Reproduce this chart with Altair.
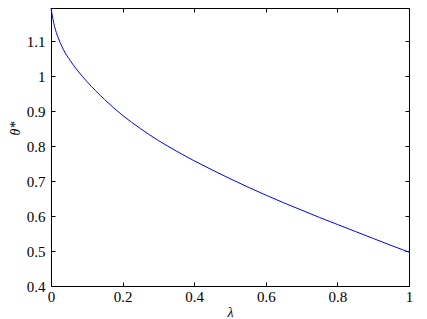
import altair as alt
import pandas as pd

# Data
lam = [0.0, 0.005, 0.01, 0.02, 0.03, 0.04, 0.05, 0.075, 0.1, 0.15, 0.2, 0.25, 0.3,
       0.35, 0.4, 0.45, 0.5, 0.55, 0.6, 0.65, 0.7, 0.75, 0.8, 0.85, 0.9, 0.95, 1.0]
theta = [1.195, 1.165, 1.142, 1.11, 1.086, 1.066, 1.05, 1.015, 0.985, 0.933, 0.888,
         0.85, 0.816, 0.786, 0.758, 0.732, 0.707, 0.683, 0.66, 0.638, 0.617, 0.596,
         0.576, 0.556, 0.536, 0.516, 0.497]

x_ticks = [0, 0.2, 0.4, 0.6, 0.8, 1]
y_ticks = [0.4, 0.5, 0.6, 0.7, 0.8, 0.9, 1.0, 1.1]

df = pd.DataFrame({"lam": lam, "theta": theta})

FONT = "Liberation Serif"
W, H = 358, 278

xs = alt.Scale(domain=[0, 1], nice=False, zero=False)
ys = alt.Scale(domain=[0.4, 1.195], nice=False, zero=False)

common = dict(domain=False, grid=False, offset=-4, tickSize=4, tickColor="black",
              tickWidth=1, labelFlush=False, labelOverlap=False, format="~g",
              labelFont=FONT, labelFontSize=15, labelColor="black")

main = alt.Chart(df).mark_line(color="#0000ff", strokeWidth=1, interpolate="monotone").encode(
    x=alt.X("lam:Q", scale=xs, axis=alt.Axis(orient="bottom", values=x_ticks, labelPadding=3,
                                             title="λ", titleFont=FONT, titleFontSize=14,
                                             titleFontStyle="italic", titleFontWeight="normal",
                                             titleColor="black", titlePadding=1, **common)),
    y=alt.Y("theta:Q", scale=ys, axis=alt.Axis(orient="left", values=y_ticks, labelPadding=6,
                                               title="θ*", titleFont=FONT, titleFontSize=14,
                                               titleFontStyle="italic", titleFontWeight="normal",
                                               titleColor="black", titleAngle=270,
                                               titleAlign="center", titleBaseline="middle",
                                               titleX=-40, titleY=120, **common)),
)

mirror = alt.Chart(df).mark_line(opacity=0, interpolate="monotone").encode(
    x=alt.X("lam:Q", scale=xs, axis=alt.Axis(orient="top", values=x_ticks, labels=False, title=None,
                                             domain=False, grid=False, offset=-4, tickSize=4,
                                             tickColor="black", tickWidth=1)),
    y=alt.Y("theta:Q", scale=ys, axis=alt.Axis(orient="right", values=y_ticks, labels=False, title=None,
                                               domain=False, grid=False, offset=-4, tickSize=4,
                                               tickColor="black", tickWidth=1)),
)

chart = alt.layer(main, mirror).resolve_axis(x="independent", y="independent").properties(
    width=W, height=H,
    autosize=alt.AutoSizeParams(type="none"),
    padding={"left": 43, "top": 0, "right": 10, "bottom": 33},
    background="white",
).configure_view(stroke="black", strokeWidth=1)

chart.save("out.html", embed_options={"renderer": "svg", "actions": False})
